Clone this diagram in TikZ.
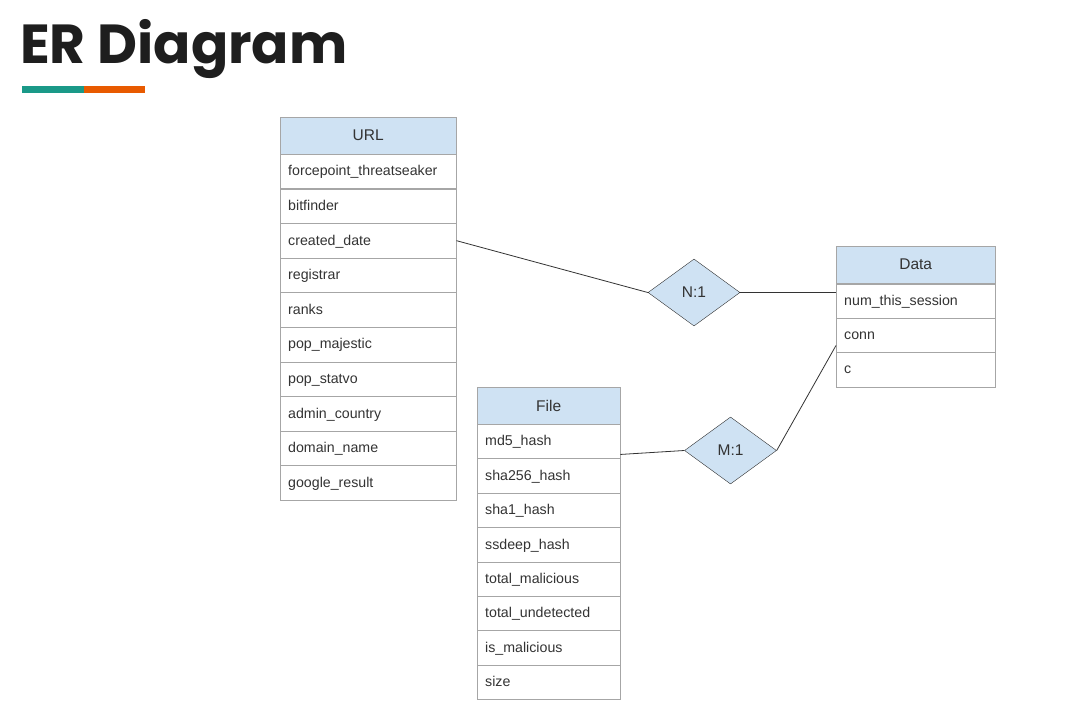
\documentclass[tikz,border=0pt]{standalone}
\usepackage{fontspec}
\setmainfont{Liberation Sans}
\newfontfamily\titlefont{Poppins}
\usetikzlibrary{shapes.geometric,calc}
\definecolor{hdrfill}{HTML}{CFE2F3}
\definecolor{bordergray}{HTML}{A6A6A6}
\definecolor{txtgray}{HTML}{333333}
\definecolor{tealbar}{HTML}{1A9988}
\definecolor{orangebar}{HTML}{E85A00}
\definecolor{diafill}{HTML}{CFE2F3}
\tikzset{
  hdr/.style={draw=bordergray, fill=hdrfill, anchor=north west, minimum height=37pt,
    inner sep=0pt, font=\fontsize{15.5}{18}\selectfont, text=txtgray},
  attr/.style={draw=bordergray, fill=white, anchor=north west, minimum height=34.5pt,
    inner xsep=8pt, inner ysep=0pt, align=left, text height=10pt, text depth=1pt,
    font=\fontsize{14.2}{16}\selectfont, text=txtgray},
  rel/.style={diamond, draw=txtgray, fill=diafill, minimum width=92pt, minimum height=67pt,
    inner sep=0pt, font=\fontsize{15.5}{18}\selectfont, text=txtgray},
  conn/.style={draw=txtgray, line width=0.8pt}
}
\begin{document}
\begin{tikzpicture}[x=1pt,y=-1pt]
\useasboundingbox (0,0) rectangle (1068,722);
\fill[white] (0,0) rectangle (1068,722);
% title
\node[anchor=base west, inner sep=0pt, font=\titlefont\bfseries\fontsize{55}{58}\selectfont, text={rgb,255:red,30;green,30;blue,30}] (title) at (20,64) {ER Diagram};
\fill[tealbar] (22,86) rectangle (84,93);
\fill[orangebar] (84,86) rectangle (145,93);
% URL table
\node[hdr, minimum width=176pt] (uh) at (280,117) {URL};
\foreach \t [count=\i] in {forcepoint\_threatseaker, bitfinder, created\_date, registrar, ranks, pop\_majestic, pop\_statvo, admin\_country, domain\_name, google\_result}{
  \node[attr, text width=160pt] (u\i) at (280,{154+(\i-1)*34.6}) {\t};
}
% Data table
\node[hdr, minimum width=159pt] (dh) at (836,246) {Data};
\foreach \t [count=\i] in {num\_this\_session, conn, c}{
  \node[attr, text width=143pt] (d\i) at (836,{284+(\i-1)*34}) {\t};
}
% File table
\node[hdr, minimum width=143pt] (fh) at (477,387) {File};
\foreach \t [count=\i] in {md5\_hash, sha256\_hash, sha1\_hash, ssdeep\_hash, total\_malicious, total\_undetected, is\_malicious, size}{
  \node[attr, text width=127pt] (f\i) at (477,{424+(\i-1)*34.4}) {\t};
}
% relationships
\node[rel] (n1) at (694,292.5) {N:1};
\node[rel] (m1) at (730.5,450.5) {M:1};
% connectors
\draw[conn] (u3.east) -- (n1.west);
\draw[conn] (n1.east) -- (n1.east -| d1.west);
\draw[conn] ([yshift=-13pt]f1.east) -- (m1.west);
\draw[conn] (m1.east) -- ([yshift=-10pt]d2.west);
\end{tikzpicture}
\end{document}
